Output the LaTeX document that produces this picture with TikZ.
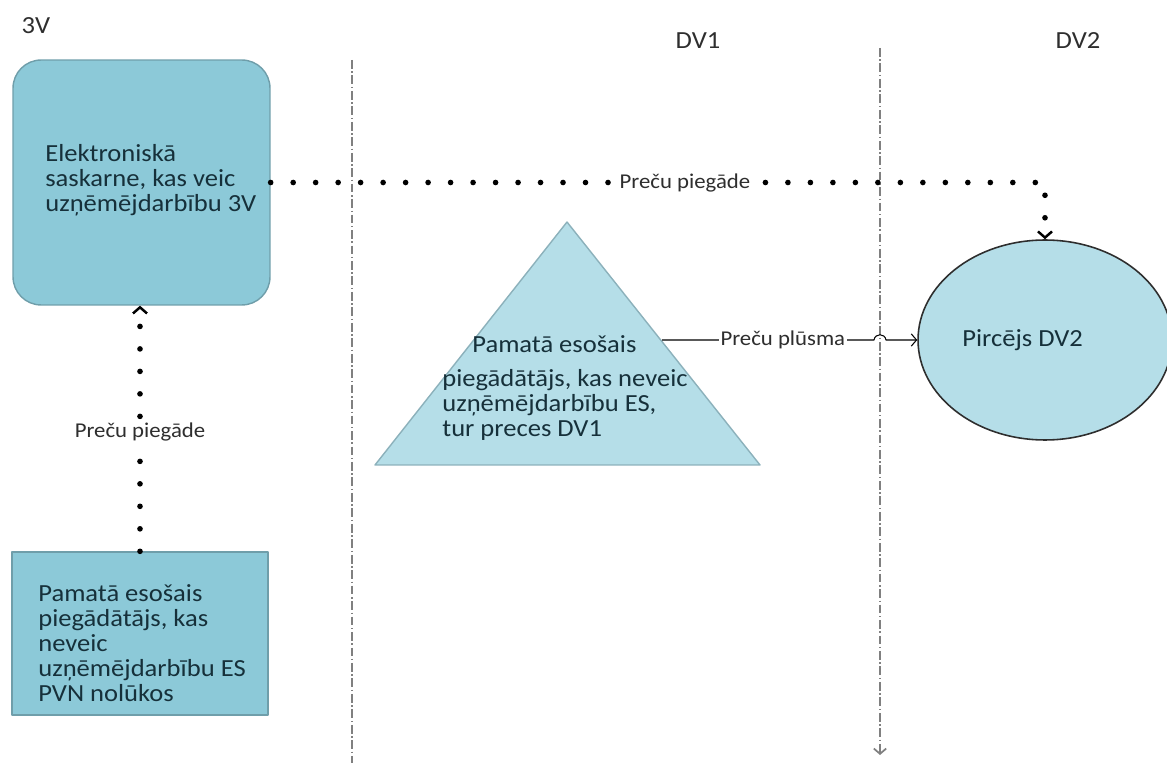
\documentclass[tikz,border=0pt]{standalone}
\usepackage{fontspec}
\setmainfont{Carlito}[FakeStretch=1.08]
\usetikzlibrary{shapes.geometric,arrows.meta}
\definecolor{boxblue}{HTML}{8CC9D8}
\definecolor{paleblue}{HTML}{B5DEE8}
\definecolor{edgeteal}{HTML}{6F9EAA}
\definecolor{inkgray}{HTML}{2E2E2E}
\definecolor{boxink}{HTML}{16303A}
\tikzset{
  boxnode/.style={draw=edgeteal, fill=boxblue, line width=0.8pt, inner sep=0pt},
  boxtext/.style={anchor=west, align=left, text=boxink, inner sep=0pt},
  hdr/.style={text=inkgray, inner sep=0pt},
  border/.style={draw=gray, line width=0.9pt, dash pattern=on 5pt off 1.5pt on 0.8pt off 1.5pt},
  dotline/.style={line width=3.2pt, line cap=round, dash pattern=on 0pt off 12.8pt},
  lbl/.style={fill=white, text=inkgray, font=\fontsize{12}{14}\selectfont, inner sep=1pt},
  chev/.style={-{Straight Barb[line width=1.4pt, length=3.5pt, width=8pt]}},
}
\begin{document}
\begin{tikzpicture}[x=0.02cm, y=-0.02cm, font=\fontsize{14}{14.2}\selectfont, line join=round]
\useasboundingbox (0,0) rectangle (1167,763);
% headers
\node[hdr] (hdr3V) at (36,26) {3V};
\node[hdr] (hdrDV1) at (698,41) {DV1};
\node[hdr] (hdrDV2) at (1078,41) {DV2};
% borders between the countries
\coordinate (b1top) at (352,60);
\coordinate (b1bot) at (352,763);
\coordinate (b2top) at (880,48);
\coordinate (b2bot) at (880,755);
\draw[border] (b1top) -- (b1bot);
\draw[border, -{Straight Barb[line width=1pt, length=3pt, width=7pt]}] (b2top) -- (b2bot);
% boxes
\node[boxnode, rounded corners=16pt, minimum width=5.14cm, minimum height=4.9cm] (saskarne) at (141.5,182.5) {};
\node[boxtext] (saskarneTxt) at (45,180) {Elektroniskā\\ saskarne, kas veic\\ uzņēmējdarbību 3V};
\node[boxnode, minimum width=5.12cm, minimum height=3.26cm] (pamats) at (140,633.5) {};
\node[boxtext] (pamatsTxt) at (38,643) {Pamatā esošais\\ piegādātājs, kas\\ neveic\\ uzņēmējdarbību ES\\ PVN nolūkos};
% triangle
\draw[draw=edgeteal!80, fill=paleblue, line width=0.8pt] (567,222) -- (760,465) -- (375,465) -- cycle;
\coordinate (plusma) at (662,340);
\node[boxtext] (piegTxt) at (442,388) {\hspace*{0.6cm}Pamatā esošais\\[5pt] piegādātājs, kas neveic\\ uzņēmējdarbību ES,\\ tur preces DV1};
% buyer
\node[ellipse, draw=inkgray, fill=paleblue, line width=0.9pt, inner sep=0pt, minimum width=5.08cm, minimum height=4cm] (pircejs) at (1045,340) {};
\node[boxtext] (pircejsTxt) at (962,340) {Pircējs DV2};
% flows
\draw[dotline, chev] (saskarne.east) -- (saskarne.east -| pircejs.north) node[lbl, pos=0.535]{Preču piegāde} -- (pircejs.north);
\draw[dotline, chev] (pamats.north) -- (pamats.north |- saskarne.south) node[lbl, pos=0.486]{Preču piegāde};
\draw[line width=0.6pt, -{Straight Barb[length=3pt, width=7pt]}] (plusma) -- (874,340) node[lbl, pos=0.57]{Preču plūsma}
  .. controls (875,333) and (885,333) .. (886,340) -- (pircejs.west);
\end{tikzpicture}
\end{document}
